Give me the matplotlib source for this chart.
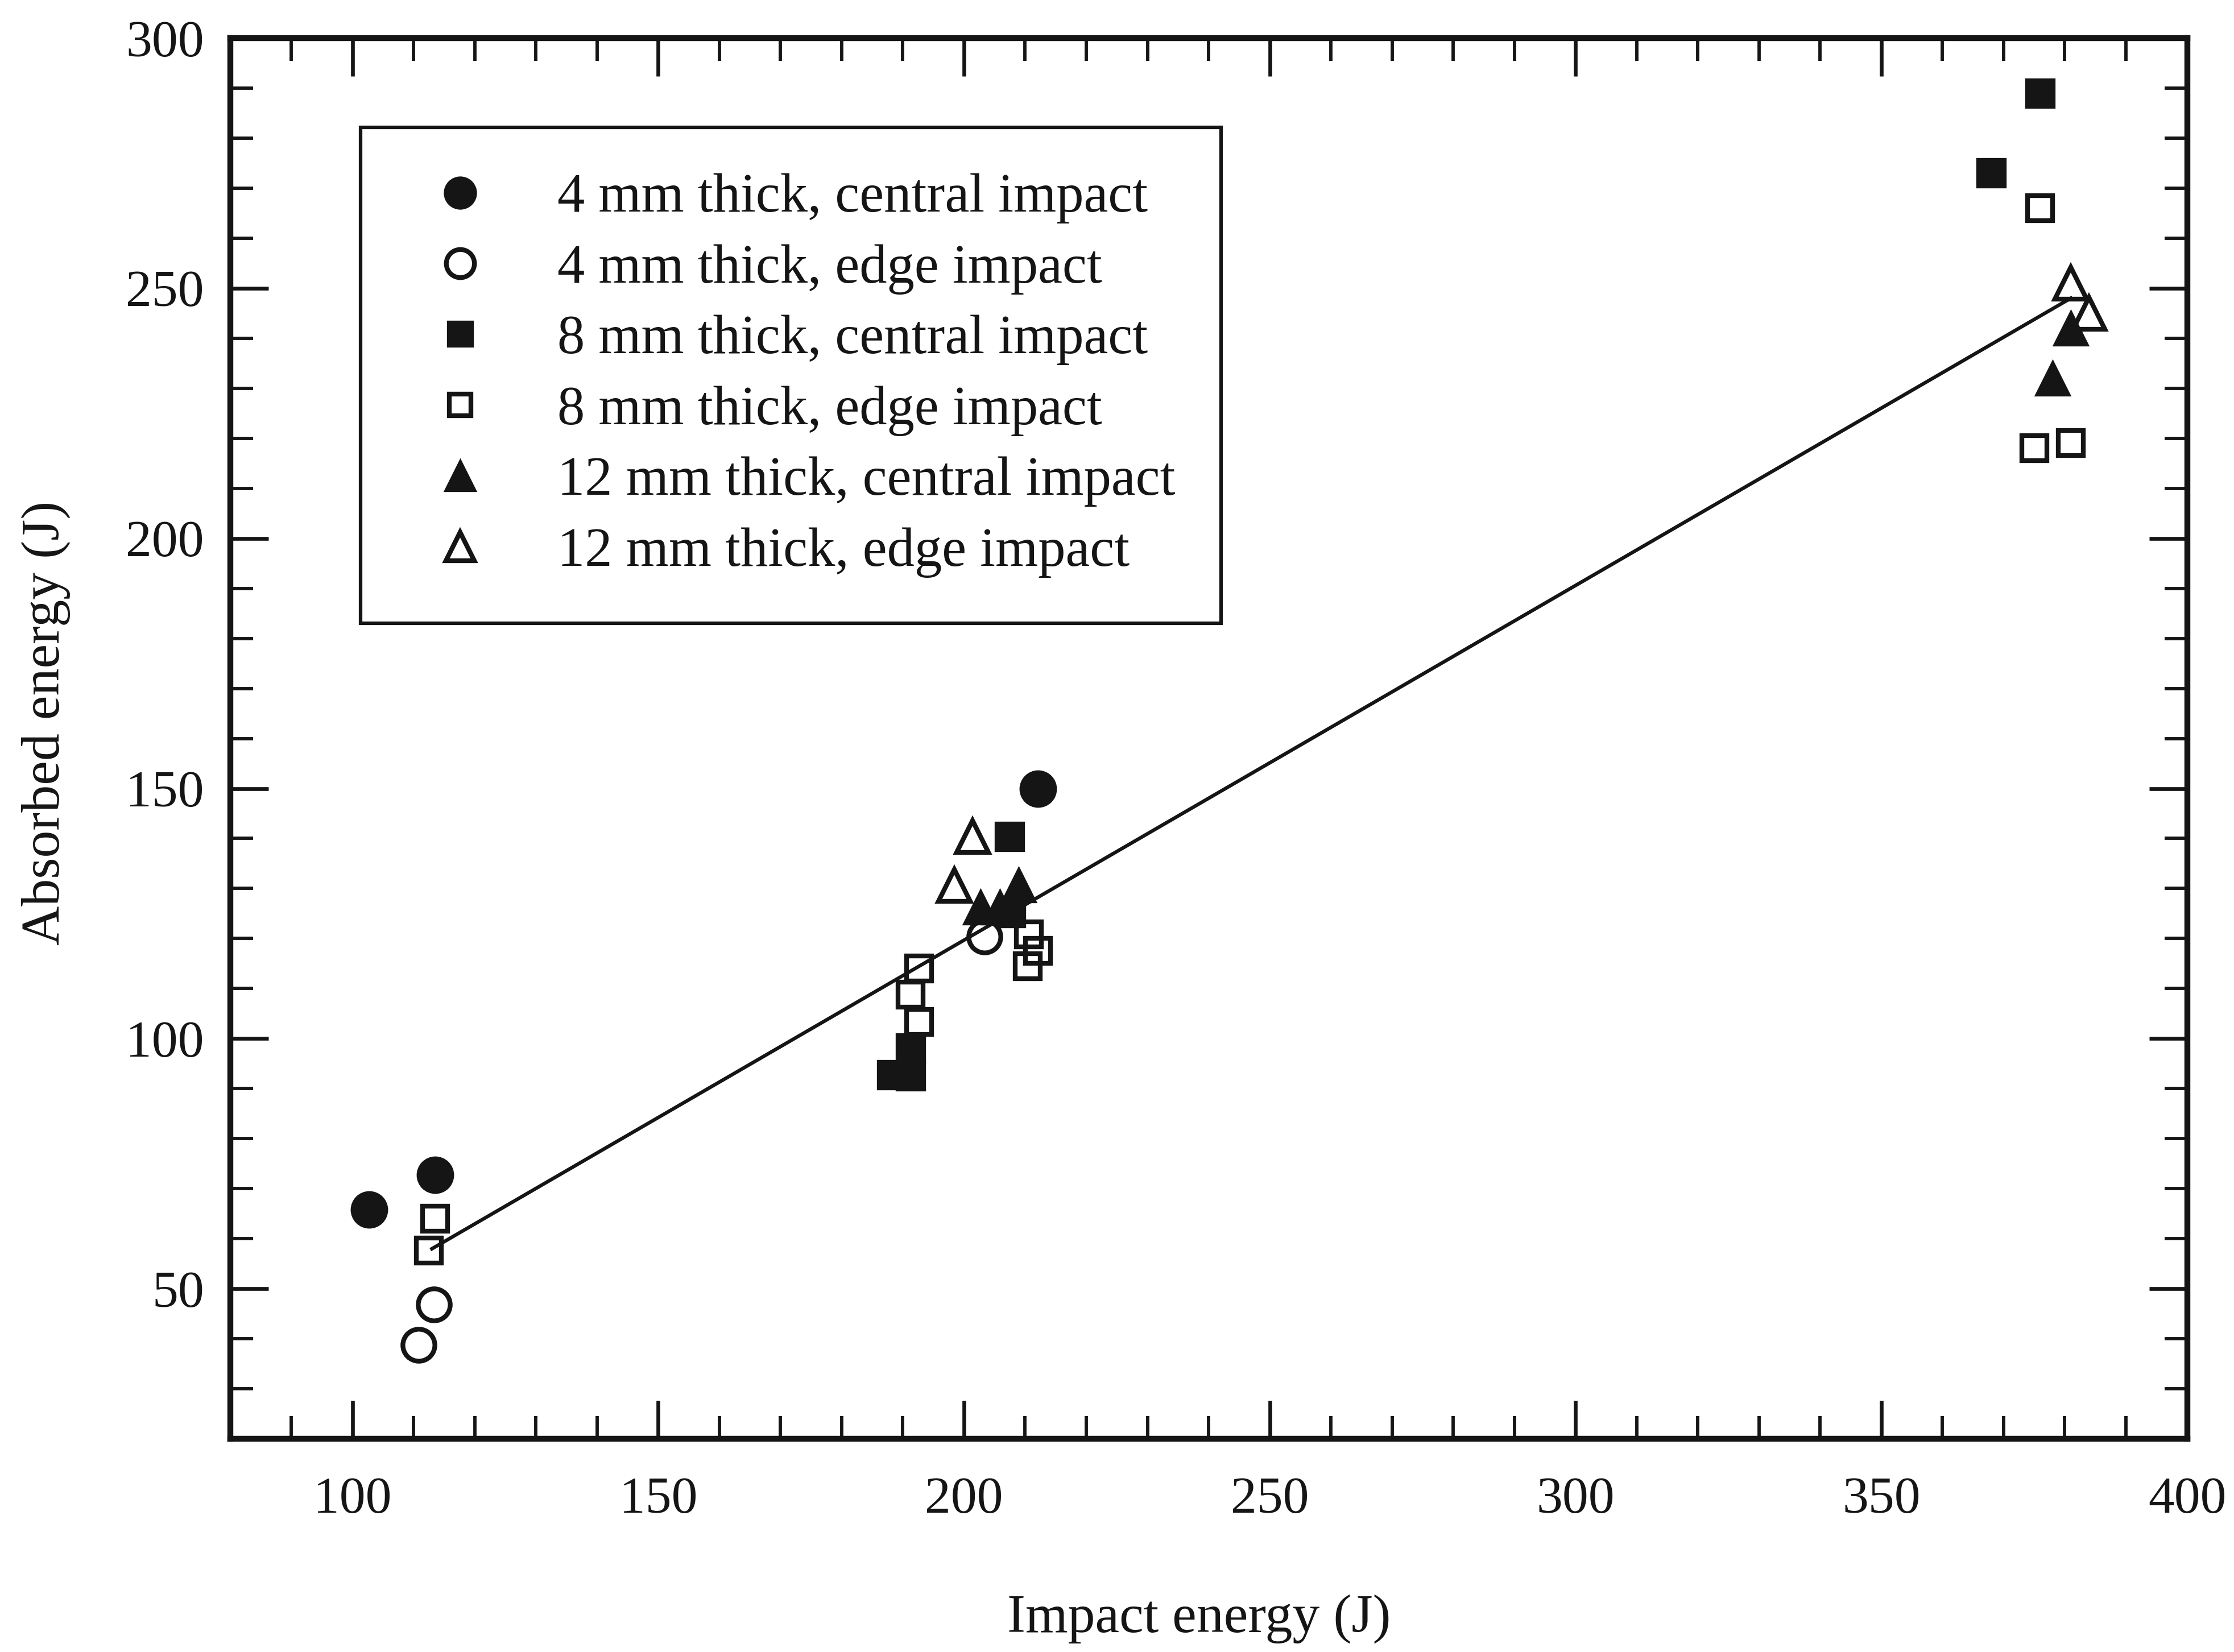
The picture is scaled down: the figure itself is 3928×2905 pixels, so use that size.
import matplotlib
matplotlib.use("Agg")

import matplotlib.pyplot as plt
from matplotlib.ticker import MultipleLocator

plt.rcParams["font.family"] = ["Liberation Serif", "DejaVu Serif"]

# values (impact energy J, absorbed energy J)
c4_x = [102.7, 113.5, 212.1]
c4_y = [65.8, 72.8, 150.0]
e4_x = [110.8, 113.3, 203.4]
e4_y = [38.8, 46.9, 120.4]
c8_x = [188.2, 191.3, 191.3, 207.4, 207.6, 368.0, 376.0]
c8_y = [92.8, 92.6, 98.1, 140.4, 125.2, 273.0, 289.0]
e8_x = [112.5, 113.5, 191.3, 192.7, 192.7, 210.4, 212.1, 210.6, 376.0, 375.0, 381.0]
e8_y = [57.7, 64.0, 108.8, 103.4, 114.0, 114.5, 117.6, 120.8, 266.0, 218.0, 219.0]
c12_x = [202.7, 205.9, 208.9, 381.0, 378.0]
c12_y = [126.3, 126.3, 130.7, 242.0, 232.0]
e12_x = [198.4, 201.4, 381.0, 384.0]
e12_y = [130.6, 140.4, 251.0, 245.0]

# straight trend line
fit_x = [113.0, 381.0]
fit_y = [58.0, 248.0]

labels = [
    "4 mm thick, central impact",
    "4 mm thick, edge impact",
    "8 mm thick, central impact",
    "8 mm thick, edge impact",
    "12 mm thick, central impact",
    "12 mm thick, edge impact",
]

ink = "#151515"

fig = plt.figure(figsize=(3928 / 300, 2905 / 300), dpi=300)
ax = fig.add_axes([0.103, 0.129, 0.876, 0.848])

ax.plot(fit_x, fit_y, color=ink, lw=1.5, zorder=2)

ax.plot(c4_x, c4_y, "o", ms=15, mfc=ink, mec=ink, mew=0.8, ls="none", label=labels[0], zorder=3)
ax.plot(e4_x, e4_y, "o", ms=13.5, mfc="none", mec=ink, mew=2, ls="none", label=labels[1], zorder=3)
ax.plot(c8_x, c8_y, "s", ms=11.8, mfc=ink, mec=ink, mew=0.8, ls="none", label=labels[2], zorder=3)
ax.plot(e8_x, e8_y, "s", ms=10.5, mfc="none", mec=ink, mew=2, ls="none", label=labels[3], zorder=3)
ax.plot(c12_x, c12_y, "^", ms=14.5, mfc=ink, mec=ink, mew=0.8, ls="none", label=labels[4], zorder=3)
ax.plot(e12_x, e12_y, "^", ms=13.5, mfc="none", mec=ink, mew=2, ls="none", label=labels[5], zorder=3)

ax.set_xlim(80, 400)
ax.set_ylim(20, 300)
ax.xaxis.set_major_locator(MultipleLocator(50))
ax.xaxis.set_minor_locator(MultipleLocator(10))
ax.yaxis.set_major_locator(MultipleLocator(50))
ax.yaxis.set_minor_locator(MultipleLocator(10))

ax.tick_params(which="both", direction="in", top=True, right=True, colors=ink, labelsize=22)
ax.tick_params(which="major", length=16, width=1.6)
ax.tick_params(which="minor", length=9.5, width=1.4)
ax.tick_params(axis="x", pad=16)
ax.tick_params(axis="y", pad=11)
for sp in ax.spines.values():
    sp.set_linewidth(2.5)
    sp.set_color(ink)

ax.set_xlabel("Impact energy (J)", fontsize=23, color=ink)
ax.set_ylabel("Absorbed energy (J)", fontsize=23, color=ink)
ax.xaxis.set_label_coords(0.495, -0.111)
ax.yaxis.set_label_coords(-0.0815, 0.511)

leg = ax.legend(
    loc="upper left",
    bbox_to_anchor=(0.0667, 0.936),
    borderaxespad=0,
    fancybox=False,
    edgecolor=ink,
    framealpha=1,
    fontsize=23.2,
    handlelength=1.96,
    handletextpad=0.79,
    borderpad=0.83,
    labelspacing=0.37,
    markerscale=0.88,
    numpoints=1,
)
leg.get_frame().set_linewidth(1.5)
for t in leg.get_texts():
    t.set_color(ink)

fig.savefig("out.png", dpi=300, facecolor="white")
plt.close(fig)
